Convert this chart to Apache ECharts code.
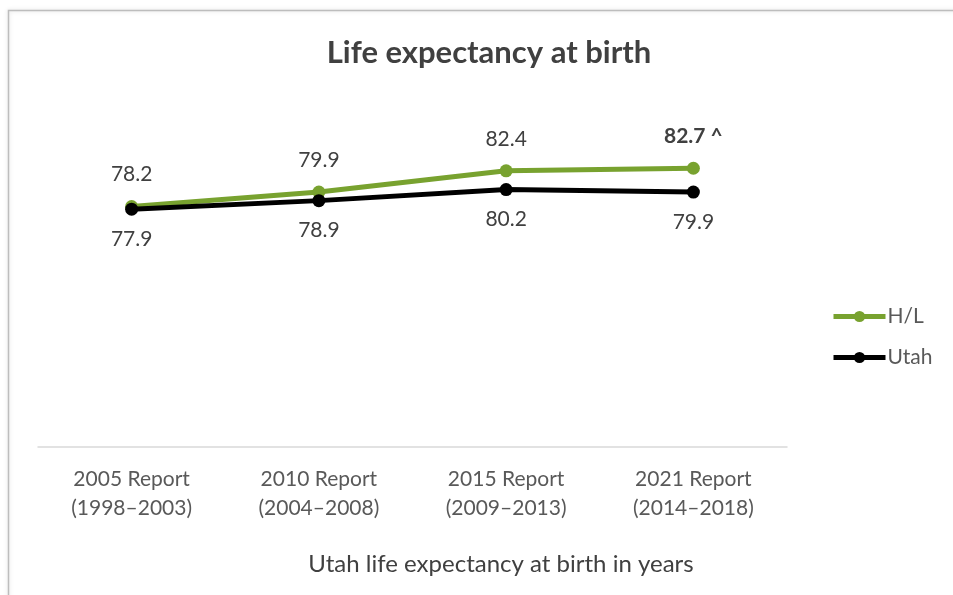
<!DOCTYPE html>
<html><head><meta charset="utf-8">
<script src="https://cdn.jsdelivr.net/npm/echarts@6/dist/echarts.min.js"></script>
<style>html,body{margin:0;padding:0;background:#fff}#c{width:953px;height:595px}</style>
</head><body><div id="c"></div>
<script>
var categories = ['2005 Report\n(1998–2003)', '2010 Report\n(2004–2008)', '2015 Report\n(2009–2013)', '2021 Report\n(2014–2018)'];
var hlValues = [78.2, 79.9, 82.4, 82.7];
var utahValues = [77.9, 78.9, 80.2, 79.9];
var yMin = 50, yMax = 90;

var FONT = 'Lato, "Open Sans", sans-serif';
var chart = echarts.init(document.getElementById('c'));
chart.setOption({
  animation: false,
  backgroundColor: '#fff',
  graphic: [{
    type: 'rect', shape: {x: 8.5, y: 10.5, width: 960, height: 600},
    style: {fill: 'none', stroke: '#bdbdbd', lineWidth: 1.5, shadowBlur: 4, shadowColor: 'rgba(0,0,0,0.15)'}
  }],
  title: [{
    text: 'Life expectancy at birth', left: 484, top: 32, textAlign: 'center',
    textStyle: {fontFamily: FONT, fontSize: 31, fontWeight: 'bold', color: '#404040'}
  }, {
    text: 'Utah life expectancy at birth in years', left: 496, top: 547, textAlign: 'center',
    textStyle: {fontFamily: FONT, fontSize: 24, fontWeight: 'normal', color: '#404040'}
  }],
  legend: {
    orient: 'vertical', left: 826, top: 301, itemGap: 20, itemWidth: 52, itemHeight: 14,
    lineStyle: {width: 5},
    textStyle: {fontFamily: FONT, fontSize: 21, color: '#595959', padding: [0, 0, 0, -3]},
    data: ['H/L', 'Utah']
  },
  grid: {left: 38, right: 166, top: 106, bottom: 148},
  xAxis: {
    type: 'category', data: categories, boundaryGap: true,
    axisLine: {lineStyle: {color: '#d9d9d9', width: 1.5}},
    axisTick: {show: false},
    axisLabel: {fontFamily: FONT, fontSize: 21, color: '#595959', lineHeight: 29, margin: 18}
  },
  yAxis: {
    type: 'value', min: yMin, max: yMax, interval: 10, show: false, splitLine: {show: false}
  },
  series: [{
    name: 'H/L', type: 'line', data: hlValues.map(function(v, i){
      return i === hlValues.length - 1 ? {value: v, label: {fontWeight: 'bold', formatter: '{c} ^'}} : v;
    }),
    color: '#78a22f', symbol: 'circle', symbolSize: 13,
    lineStyle: {width: 5}, z: 3,
    label: {show: true, position: 'top', distance: 15, fontFamily: FONT, fontSize: 21, color: '#404040'}
  }, {
    name: 'Utah', type: 'line', data: utahValues,
    color: '#000000', symbol: 'circle', symbolSize: 13,
    lineStyle: {width: 5}, z: 4,
    label: {show: true, position: 'bottom', distance: 13, fontFamily: FONT, fontSize: 21, color: '#404040'}
  }]
});
</script></body></html>
